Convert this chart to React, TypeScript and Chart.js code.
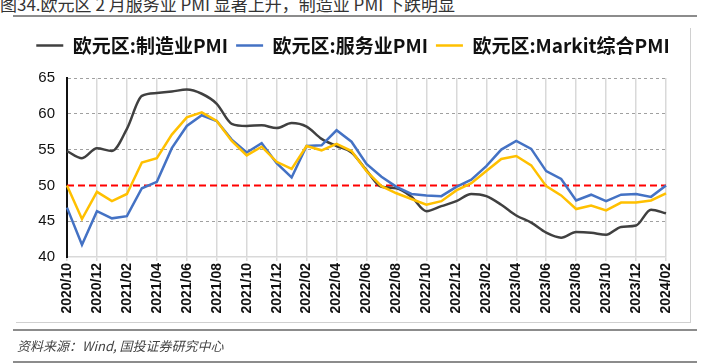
import React, { useEffect, useRef } from "react";
import { Chart, registerables } from "chart.js";

Chart.register(...registerables);

const months = [
  "2020/10", "2020/11", "2020/12",
  "2021/01", "2021/02", "2021/03", "2021/04", "2021/05", "2021/06",
  "2021/07", "2021/08", "2021/09", "2021/10", "2021/11", "2021/12",
  "2022/01", "2022/02", "2022/03", "2022/04", "2022/05", "2022/06",
  "2022/07", "2022/08", "2022/09", "2022/10", "2022/11", "2022/12",
  "2023/01", "2023/02", "2023/03", "2023/04", "2023/05", "2023/06",
  "2023/07", "2023/08", "2023/09", "2023/10", "2023/11", "2023/12",
  "2024/01", "2024/02",
];

const manufacturing = [
  54.8, 53.8, 55.2,
  54.8, 57.9, 62.5, 62.9, 63.1, 63.4, 62.8, 61.4, 58.6, 58.3, 58.4, 58.0,
  58.7, 58.2, 56.5, 55.5, 54.6, 52.1, 49.8, 49.6, 48.4, 46.4, 47.1, 47.8,
  48.8, 48.5, 47.3, 45.8, 44.8, 43.4, 42.7, 43.5, 43.4, 43.1, 44.2, 44.4,
  46.6, 46.1,
];

const services = [
  46.9, 41.7, 46.4,
  45.4, 45.7, 49.6, 50.5, 55.2, 58.3, 59.8, 59.0, 56.4, 54.6, 55.9, 53.1,
  51.1, 55.5, 55.6, 57.7, 56.1, 53.0, 51.2, 49.8, 48.8, 48.6, 48.5, 49.8,
  50.8, 52.7, 55.0, 56.2, 55.1, 52.0, 50.9, 47.9, 48.7, 47.8, 48.7, 48.8,
  48.4, 50.0,
];

const composite = [
  50.0, 45.3, 49.1,
  47.8, 48.8, 53.2, 53.8, 57.1, 59.5, 60.2, 59.0, 56.2, 54.2, 55.4, 53.3,
  52.3, 55.5, 54.9, 55.8, 54.8, 52.0, 49.9, 48.9, 48.1, 47.3, 47.8, 49.3,
  50.3, 52.0, 53.7, 54.1, 52.8, 49.9, 48.6, 46.7, 47.2, 46.5, 47.6, 47.6,
  47.9, 48.9,
];

const seriesNames = ["欧元区:制造业PMI", "欧元区:服务业PMI", "欧元区:Markit综合PMI"];
const referenceLevel = 50;
const yMin = 40;
const yMax = 65;
const yStep = 5;

const titleText = "图34.欧元区 2 月服务业 PMI 显著上升，制造业 PMI 下跌明显";
const sourceText = "资料来源：Wind, 国投证券研究中心";

const legendHeightPlugin = {
  id: "legendHeightFix",
  beforeLayout(chart: any) {
    const lg = chart.legend;
    if (!lg || lg.__patched) return;
    const orig = lg.fit;
    lg.fit = function () {
      orig.call(this);
      this.height = 50;
    };
    lg.__patched = true;
  },
  afterLayout(chart: any) {
    const lg = chart.legend;
    if (!lg) return;
    lg.left = 0;
    lg.right = chart.width - 4;
    lg.width = chart.width - 4;
  },
};

const refLinePlugin = {
  id: "refLine",
  beforeDatasetsDraw(chart: any) {
    const { ctx, chartArea, scales } = chart;
    const y = scales.y.getPixelForValue(referenceLevel);
    ctx.save();
    ctx.strokeStyle = "#FF0000";
    ctx.lineWidth = 2;
    ctx.setLineDash([7, 4]);
    ctx.beginPath();
    ctx.moveTo(chartArea.left, y);
    ctx.lineTo(chartArea.right, y);
    ctx.stroke();
    ctx.restore();
  },
};

export default function App() {
  const canvasRef = useRef<HTMLCanvasElement | null>(null);

  useEffect(() => {
    if (!canvasRef.current) return;
    const chart = new Chart(canvasRef.current, {
      type: "line",
      data: {
        labels: months,
        datasets: [
          {
            label: seriesNames[0],
            data: manufacturing,
            borderColor: "#404040",
            backgroundColor: "#404040",
            borderWidth: 2.5,
            pointRadius: 0,
            tension: 0.4,
            cubicInterpolationMode: "monotone",
            order: 2,
          },
          {
            label: seriesNames[1],
            data: services,
            borderColor: "#4472C4",
            backgroundColor: "#4472C4",
            borderWidth: 2.5,
            pointRadius: 0,
            tension: 0,
            order: 1,
          },
          {
            label: seriesNames[2],
            data: composite,
            borderColor: "#FFC000",
            backgroundColor: "#FFC000",
            borderWidth: 2.5,
            pointRadius: 0,
            tension: 0,
            order: 0,
          },
        ],
      },
      options: {
        responsive: false,
        animation: false,
        events: [],
        layout: { padding: { top: 28, left: 0, right: 44, bottom: 0 } },
        plugins: {
          tooltip: { enabled: false },
          legend: {
            display: true,
            position: "top",
            labels: {
              usePointStyle: true,
              pointStyle: "line",
              pointStyleWidth: 27,
              padding: 8,
              color: "#111",
              font: { family: "'Noto Sans CJK SC', 'Noto Sans', sans-serif", size: 19, weight: "bold" },
              sort: (a: any, b: any) => a.datasetIndex - b.datasetIndex,
            },
          },
        },
        scales: {
          x: {
            type: "category",
            offset: false,
            afterFit: (s: any) => {
              s.height = 106;
            },
            grid: {
              display: true,
              color: (c: any) => (c.index % 2 === 0 ? "#d9d9d9" : "rgba(0,0,0,0)"),
              lineWidth: 1.5,
              drawTicks: true,
              tickLength: 4,
            },
            border: { display: true, color: "#d9d9d9", width: 1.5 },
            ticks: {
              autoSkip: false,
              minRotation: 90,
              maxRotation: 90,
              padding: 2,
              color: "#111",
              font: { family: "'Liberation Sans', Arial, sans-serif", size: 14, weight: "bold" },
              callback: function (this: any, _v: any, i: number) {
                return i % 2 === 0 ? months[i] : "";
              },
            },
          },
          y: {
            min: yMin,
            max: yMax,
            afterFit: (s: any) => {
              s.width = 67;
            },
            grid: {
              display: true,
              drawTicks: false,
              color: (c: any) =>
                c.tick && (c.tick.value === referenceLevel || c.tick.value === yMin)
                  ? "rgba(0,0,0,0)"
                  : "#a0a0a0",
              lineWidth: 1,
            },
            border: { display: true, color: "#111", width: 2, dash: [3, 3] },
            ticks: {
              stepSize: yStep,
              padding: 12,
              color: "#111",
              font: { family: "'Liberation Sans', Arial, sans-serif", size: 15 },
            },
          },
        },
      },
      plugins: [legendHeightPlugin, refLinePlugin],
    } as any);
    return () => chart.destroy();
  }, []);

  return (
    <div
      style={{
        position: "absolute",
        left: 0,
        top: 0,
        width: 710,
        height: 363,
        background: "#fff",
        overflow: "hidden",
      }}
    >
      <div
        style={{
          position: "absolute",
          left: 0,
          top: -6,
          fontFamily: "'Noto Sans CJK SC', sans-serif",
          fontSize: 17,
          lineHeight: "20px",
          color: "#333",
          whiteSpace: "nowrap",
        }}
      >
        {titleText}
      </div>
      <div style={{ position: "absolute", left: 13, top: 15, width: 684, height: 2, background: "#8c8c8c" }} />
      <div
        style={{
          position: "absolute",
          left: 16,
          top: 28,
          width: 674,
          height: 294,
          borderRight: "1px solid #d0d0d0",
          borderBottom: "1px solid #d0d0d0",
        }}
      />
      <canvas
        ref={canvasRef}
        width={710}
        height={363}
        style={{ position: "absolute", left: 0, top: 0, width: 710, height: 363 }}
      />
      <div style={{ position: "absolute", left: 13, top: 329, width: 684, height: 2, background: "#8c8c8c" }} />
      <div
        style={{
          position: "absolute",
          left: 17,
          top: 337,
          fontFamily: "'Noto Sans CJK SC', sans-serif",
          fontStyle: "italic",
          fontSize: 13,
          lineHeight: "18px",
          color: "#444",
          whiteSpace: "nowrap",
        }}
      >
        {sourceText}
      </div>
      <div style={{ position: "absolute", left: 13, top: 361, width: 684, height: 2, background: "#8c8c8c" }} />
    </div>
  );
}
